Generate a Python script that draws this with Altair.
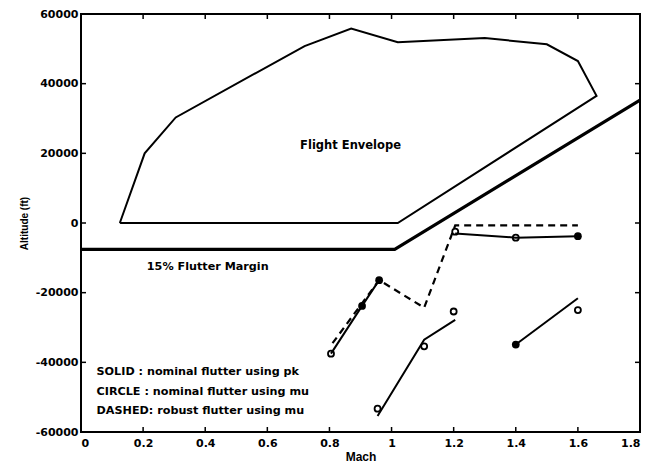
import altair as alt
import pandas as pd

# ---- data ----
env_mach = [0.125, 0.205, 0.305, 0.72, 0.87, 1.02, 1.30, 1.50, 1.60, 1.66, 1.02, 0.125]
env_alt = [0, 20000, 30300, 50800, 55800, 51900, 53100, 51300, 46500, 36500, 0, 0]

margin_mach = [0.0, 1.01, 1.8]
margin_alt = [-7600, -7600, 35300]

solid_seg = ["A", "A", "A", "B", "B", "B", "C", "C", "C", "D", "D"]
solid_mach = [0.805, 0.905, 0.96, 0.955, 1.105, 1.205, 1.205, 1.40, 1.60, 1.40, 1.60]
solid_alt = [-37500, -23800, -16400, -55400, -33500, -27800, -3000, -4200, -3800, -34900, -21600]

dashed_mach = [0.81, 0.96, 1.105, 1.205, 1.60]
dashed_alt = [-34500, -16400, -24300, -700, -700]

circle_mach = [0.805, 0.955, 1.105, 1.20, 1.205, 1.40, 1.60]
circle_alt = [-37500, -53300, -35400, -25400, -2500, -4200, -25000]

dot_mach = [0.905, 0.96, 1.40, 1.60]
dot_alt = [-23800, -16400, -34900, -3800]

x_ticks = [0, 0.2, 0.4, 0.6, 0.8, 1, 1.2, 1.4, 1.6, 1.8]
y_ticks = [-60000, -40000, -20000, 0, 20000, 40000, 60000]

label_text = ["15% Flutter Margin",
              "SOLID : nominal flutter using pk",
              "CIRCLE : nominal flutter using mu",
              "DASHED: robust flutter using mu"]
label_mach = [0.212, 0.05, 0.05, 0.05]
label_alt = [-12600, -42900, -48600, -54100]

title_text = ["Flight Envelope"]
title_mach = [0.868]
title_alt = [22200]

W, H = 559, 418

xs = alt.Scale(domain=[0, 1.8], nice=False, zero=False)
ys = alt.Scale(domain=[-60000, 60000], nice=False, zero=False)

xax = alt.Axis(values=x_ticks, title="Mach", labelExpr="toString(datum.value)",
               titleFontSize=12, titlePadding=3, labelPadding=5)
yax = alt.Axis(values=y_ticks, title="Altitude (ft)", labelExpr="toString(datum.value)",
               titleFontSize=10, titlePadding=6, labelPadding=3)

env_df = pd.DataFrame({"mach": env_mach, "alt": env_alt, "o": range(len(env_mach))})
envelope = alt.Chart(env_df).mark_line(color="black", strokeWidth=2).encode(
    x=alt.X("mach:Q", scale=xs, axis=xax),
    y=alt.Y("alt:Q", scale=ys, axis=yax),
    order="o:Q",
)

mar_df = pd.DataFrame({"mach": margin_mach, "alt": margin_alt, "o": range(len(margin_mach))})
margin = alt.Chart(mar_df).mark_line(color="black", strokeWidth=3.2).encode(
    x="mach:Q", y="alt:Q", order="o:Q")

sol_df = pd.DataFrame({"mach": solid_mach, "alt": solid_alt, "seg": solid_seg,
                       "o": range(len(solid_mach))})
solid = alt.Chart(sol_df).mark_line(color="black", strokeWidth=2).encode(
    x="mach:Q", y="alt:Q", detail="seg:N", order="o:Q")

dash_df = pd.DataFrame({"mach": dashed_mach, "alt": dashed_alt, "o": range(len(dashed_mach))})
dashed = alt.Chart(dash_df).mark_line(color="black", strokeWidth=2.2, strokeDash=[7, 5]).encode(
    x="mach:Q", y="alt:Q", order="o:Q")

circ_df = pd.DataFrame({"mach": circle_mach, "alt": circle_alt})
circles = alt.Chart(circ_df).mark_point(shape="circle", filled=False, color="black", opacity=1,
                                        strokeWidth=1.8, size=36).encode(x="mach:Q", y="alt:Q")

dot_df = pd.DataFrame({"mach": dot_mach, "alt": dot_alt})
dots = alt.Chart(dot_df).mark_circle(color="black", opacity=1, size=60).encode(x="mach:Q", y="alt:Q")

lab_df = pd.DataFrame({"t": label_text, "mach": label_mach, "alt": label_alt})
labels = alt.Chart(lab_df).mark_text(align="left", baseline="middle", font="DejaVu Sans",
                                     fontWeight="bold", fontSize=11.2, color="black").encode(
    x="mach:Q", y="alt:Q", text="t:N")

tit_df = pd.DataFrame({"t": title_text, "mach": title_mach, "alt": title_alt})
ftitle = alt.Chart(tit_df).mark_text(align="center", baseline="middle", font="DejaVu Sans",
                                     fontWeight="bold", fontSize=11.5, color="black").encode(
    x="mach:Q", y="alt:Q", text="t:N")

xt_df = pd.DataFrame({"mach": x_ticks})
yt_df = pd.DataFrame({"alt": y_ticks})
tk = dict(color="black", strokeWidth=1.5)
tb = alt.Chart(xt_df).mark_rule(**tk).encode(x="mach:Q", y=alt.value(H), y2=alt.value(H - 5))
tt = alt.Chart(xt_df).mark_rule(**tk).encode(x="mach:Q", y=alt.value(0), y2=alt.value(5))
tl = alt.Chart(yt_df).mark_rule(**tk).encode(y="alt:Q", x=alt.value(0), x2=alt.value(5))
tr = alt.Chart(yt_df).mark_rule(**tk).encode(y="alt:Q", x=alt.value(W), x2=alt.value(W - 5))

chart = alt.layer(envelope, margin, solid, dashed, circles, dots, labels, ftitle, tb, tt, tl, tr).properties(
    width=W, height=H,
    autosize=alt.AutoSizeParams(type="none"),
    padding={"left": 73, "top": 6, "right": 1, "bottom": 35},
).configure_view(
    stroke="black", strokeWidth=2
).configure_axis(
    ticks=False, domain=False, grid=False,
    labelFont="DejaVu Sans", labelFontWeight="bold", labelFontSize=11, labelColor="black",
    titleFont="Liberation Sans", titleFontWeight="bold", titleColor="black",
)

chart.save("out.html", embed_options={"renderer": "svg", "actions": False})
